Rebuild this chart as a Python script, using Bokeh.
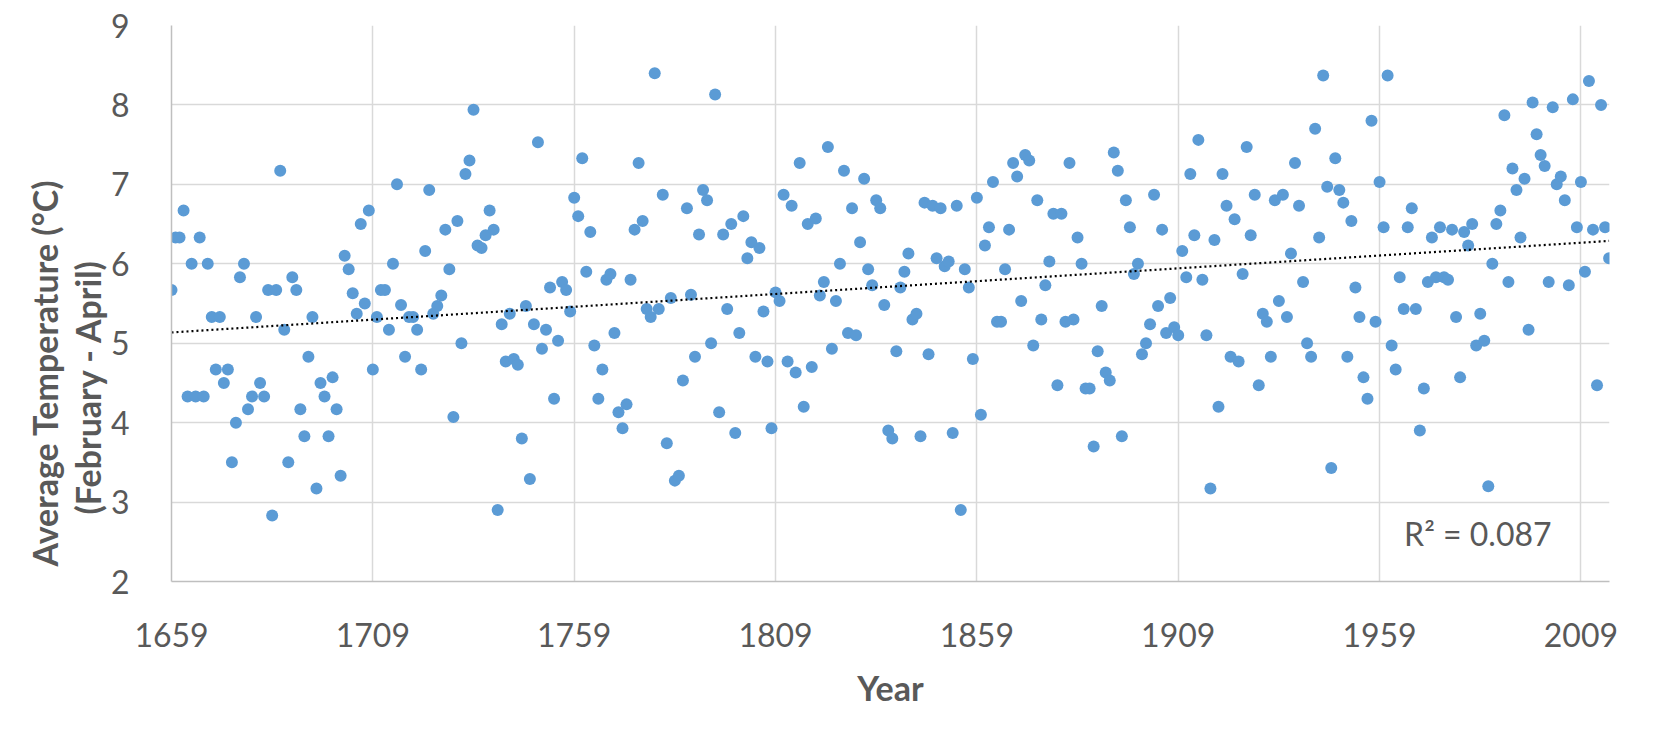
import numpy as np
from bokeh.plotting import figure
from bokeh.models import FixedTicker, Label, Range1d, ColumnDataSource, Title
from bokeh.embed import file_html
from bokeh.resources import INLINE

years = list(range(1659, 2017))

temps = [
    # 1659-1710
    5.67, 6.33, 6.33, 6.67, 4.33, 6.00, 4.33, 6.33, 4.33, 6.00,
    5.33, 4.67, 5.33, 4.50, 4.67, 3.50, 4.00, 5.83, 6.00, 4.17,
    4.33, 5.33, 4.50, 4.33, 5.67, 2.83, 5.67, 7.17, 5.17, 3.50,
    5.83, 5.67, 4.17, 3.83, 4.83, 5.33, 3.17, 4.50, 4.33, 3.83,
    4.57, 4.17, 3.33, 6.10, 5.93, 5.63, 5.37, 6.50, 5.50, 6.67,
    4.67, 5.33,
    # 1711-1766
    5.67, 5.67, 5.17, 6.00, 7.00, 5.48, 4.83, 5.33, 5.33, 5.17,
    4.67, 6.16, 6.93, 5.37, 5.47, 5.60, 6.43, 5.93, 4.07, 6.54,
    5.00, 7.13, 7.30, 7.94, 6.23, 6.20, 6.36, 6.67, 6.43, 2.90,
    5.24, 4.77, 5.37, 4.80, 4.73, 3.80, 5.47, 3.29, 5.24, 7.53,
    4.93, 5.17, 5.70, 4.30, 5.03, 5.77, 5.67, 5.40, 6.83, 6.60,
    7.33, 5.90, 6.40, 4.97, 4.30, 4.67,
    # 1767-1821
    5.80, 5.87, 5.13, 4.13, 3.93, 4.23, 5.80, 6.43, 7.27, 6.54,
    5.43, 5.33, 8.40, 5.43, 6.87, 3.74, 5.57, 3.27, 3.33, 4.53,
    6.70, 5.61, 4.83, 6.37, 6.93, 6.80, 5.00, 8.13, 4.13, 6.37,
    5.43, 6.50, 3.87, 5.13, 6.60, 6.07, 6.27, 4.83, 6.20, 5.40,
    4.77, 3.93, 5.64, 5.53, 6.87, 4.77, 6.73, 4.63, 7.27, 4.20,
    6.50, 4.70, 6.57, 5.60, 5.77,
    # 1822-1877
    7.47, 4.93, 5.53, 6.00, 7.17, 5.13, 6.70, 5.10, 6.27, 7.07,
    5.93, 5.73, 6.80, 6.70, 5.48, 3.90, 3.80, 4.90, 5.70, 5.90,
    6.13, 5.30, 5.37, 3.83, 6.77, 4.86, 6.73, 6.07, 6.70, 5.97,
    6.03, 3.87, 6.73, 2.90, 5.93, 5.70, 4.80, 6.83, 4.10, 6.23,
    6.46, 7.03, 5.27, 5.27, 5.93, 6.43, 7.27, 7.10, 5.53, 7.37,
    7.30, 4.97, 6.80, 5.30, 5.73, 6.03,
    # 1878-1932
    6.63, 4.47, 6.63, 5.27, 7.27, 5.30, 6.33, 6.00, 4.43, 4.43,
    3.70, 4.90, 5.47, 4.63, 4.53, 7.40, 7.17, 3.83, 6.80, 6.46,
    5.87, 6.00, 4.86, 5.00, 5.24, 6.87, 5.47, 6.43, 5.13, 5.57,
    5.20, 5.10, 6.16, 5.83, 7.13, 6.36, 7.56, 5.80, 5.10, 3.17,
    6.30, 4.20, 7.13, 6.73, 4.83, 6.56, 4.77, 5.87, 7.47, 6.36,
    6.87, 4.47, 5.37, 5.27, 4.83,
    # 1933-1990
    6.80, 5.53, 6.87, 5.33, 6.13, 7.27, 6.73, 5.77, 5.00, 4.83,
    7.70, 6.33, 8.37, 6.97, 3.43, 7.33, 6.93, 6.77, 4.83, 6.54,
    5.70, 5.33, 4.57, 4.30, 7.80, 5.27, 7.03, 6.46, 8.37, 4.97,
    4.67, 5.83, 5.43, 6.46, 6.70, 5.43, 3.90, 4.43, 5.77, 6.33,
    5.83, 6.46, 5.83, 5.80, 6.43, 5.33, 4.57, 6.40, 6.23, 6.50,
    4.97, 5.37, 5.03, 3.20, 6.00, 6.50, 6.67, 7.87,
    # 1991-2016
    5.77, 7.20, 6.93, 6.33, 7.07, 5.17, 8.03, 7.63, 7.37, 7.23,
    5.77, 7.97, 7.00, 7.10, 6.80, 5.73, 8.07, 6.46, 7.03, 5.90,
    8.30, 6.43, 4.47, 8.00, 6.46, 6.07,
]

x_ticks = [1659, 1709, 1759, 1809, 1859, 1909, 1959, 2009]
y_ticks = [2, 3, 4, 5, 6, 7, 8, 9]
r2_text = "R\u00b2 = 0.087"
y_title_1 = "Average Temperature (\u00b0C)"
y_title_2 = "(February - April)"
x_title = "Year"

FONT = "Lato"
TXT = "#595959"
GRID = "#D9D9D9"

p = figure(width=1663, height=721, output_backend="svg", toolbar_location=None,
           x_range=Range1d(1659, 2016.1), y_range=Range1d(2, 9),
           min_border_left=171, min_border_right=54,
           min_border_top=25, min_border_bottom=140)
p.outline_line_color = None
p.background_fill_color = "white"
p.border_fill_color = "white"

for ax in (p.xaxis[0], p.yaxis[0]):
    ax.axis_line_color = "#BFBFBF"
    ax.axis_line_width = 1.5
    ax.major_tick_line_color = None
    ax.minor_tick_line_color = None
    ax.major_label_text_font = FONT
    ax.major_label_text_font_size = "32px"
    ax.major_label_text_color = TXT

p.xaxis.ticker = FixedTicker(ticks=x_ticks)
p.yaxis.ticker = FixedTicker(ticks=y_ticks)
p.xaxis.major_label_standoff = 35
p.yaxis.major_label_standoff = 36

p.xaxis.axis_label = x_title
p.xaxis.axis_label_text_font = FONT
p.xaxis.axis_label_text_font_size = "34px"
p.xaxis.axis_label_text_font_style = "bold"
p.xaxis.axis_label_text_color = TXT
p.xaxis.axis_label_standoff = 17

p.xgrid.ticker = FixedTicker(ticks=x_ticks)
p.ygrid.ticker = FixedTicker(ticks=y_ticks)
for g in (p.xgrid[0], p.ygrid[0]):
    g.grid_line_color = GRID
    g.grid_line_width = 1.5

src = ColumnDataSource(dict(year=years, temp=temps))
p.scatter("year", "temp", source=src, size=12, marker="circle",
          fill_color="#5B9BD5", line_color=None)

# linear trendline fitted to the data
slope, intercept = np.polyfit(np.array(years, float), np.array(temps, float), 1)
tx = [years[0], years[-1]]
ty = [intercept + slope * v for v in tx]
p.line(tx, ty, line_color="black", line_width=2.2, line_dash="2 3")

p.add_layout(Label(x=1983.4, y=2.61, text=r2_text, text_align="center",
                   text_baseline="middle", text_font=FONT,
                   text_font_size="32px", text_color=TXT))

# two-line vertical axis title (inner line added first); offset measured up from frame bottom
for txt, off in ((y_title_2, 67), (y_title_1, 15)):
    p.add_layout(Title(text=txt, align="left", offset=off,
                       text_font=FONT, text_font_size="34px",
                       text_font_style="bold", text_color=TXT,
                       standoff=0), "left")

open("out.html", "w").write(file_html(p, INLINE))
